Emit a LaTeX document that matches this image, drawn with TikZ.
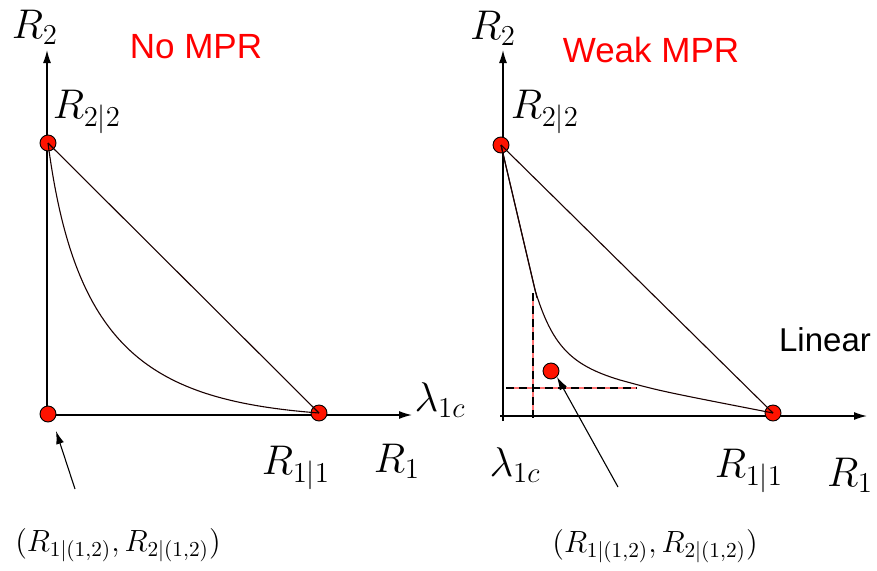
\documentclass[tikz,border=0pt]{standalone}
\usepackage{amsmath}
\usepackage{fontspec}
\newfontfamily\labelsans{Liberation Sans}
\usepackage{tikz}
\usetikzlibrary{arrows.meta, positioning, calc}

\tikzset{
  ratept/.style={circle, draw=black, fill=red!85!orange, line width=0.9pt, inner sep=0pt, minimum size=16pt},
  axisline/.style={line width=1.3pt, -{Latex[length=13pt,width=8pt]}},
  regionline/.style={line width=1.1pt, black!90!red},
  pointer/.style={line width=1.1pt, -{Latex[length=13pt,width=8pt]}},
  bigmath/.style={font=\fontsize{20}{24}\selectfont, inner sep=0pt, scale=2, transform shape},
  smallmath/.style={font=\fontsize{14}{17}\selectfont, inner sep=0pt, scale=2.13, transform shape},
  mprtitle/.style={font=\labelsans\fontsize{35}{42}\selectfont, text=red, inner sep=0pt},
}

\begin{document}
\begin{tikzpicture}[x=1pt, y=-1pt]
  \useasboundingbox (0,0) rectangle (877,570);

  % ---- left panel: no MPR ----
  \coordinate (LO) at (47,415);
  \coordinate (Ltop) at (47,50);
  \coordinate (Lend) at (412,415);
  \draw[axisline] (LO) -- (Ltop);
  \draw[axisline] (LO) -- (Lend);

  \node[ratept] (L22) at (48,143) {};
  \node[ratept] (L11) at (319,413) {};
  \node[ratept] (L12) at (48,414) {};

  % region boundaries
  \draw[regionline] (L22.center) -- (L11.center);
  \draw[regionline] (L22.center) .. controls (75,350) and (150,400) .. (L11.center);

  % labels
  \node[bigmath] (LR2) at (35,27) {$R_2$};
  \node[mprtitle] (Ltitle) at (196,47) {No MPR};
  \node[bigmath] (LR22) at (87,112) {$R_{2|2}$};
  \node[bigmath] (Llam) at (440,400) {$\lambda_{1c}$};
  \node[bigmath] (LR11) at (296,468) {$R_{1|1}$};
  \node[bigmath] (LR1) at (397,461) {$R_1$};
  \node[smallmath] (Lpair) at (118,545) {$(R_{1|(1,2)},R_{2|(1,2)})$};
  \coordinate (Ltail) at (75,489);
  \draw[pointer] (Ltail) -- (56,431);

  % ---- right panel: weak MPR ----
  \coordinate (RO) at (503,416);
  \coordinate (Rtop) at (503,50);
  \coordinate (Rend) at (867,416);
  \draw[line width=1.3pt] (503,421) -- (RO);
  \draw[line width=1.3pt] (500,416) -- (RO);
  \draw[axisline] (RO) -- (Rtop);
  \draw[axisline] (RO) -- (Rend);

  \node[ratept] (R22) at (501,145) {};
  \node[ratept] (R11) at (773,413) {};
  \node[ratept] (R12) at (551,371) {};

  % dashed limits at lambda_1c
  \coordinate (Vtop) at (533,293);
  \coordinate (Vbot) at (533,418);
  \coordinate (Hleft) at (506,388);
  \coordinate (Hright) at (637,388);
  \draw[red!55, line width=1.1pt] (Vtop) -- (Vbot);
  \draw[red!55, line width=1.1pt] (Hleft) -- (Hright);
  \draw[black, line width=1.1pt, dash pattern=on 8pt off 5pt] (Vtop) -- (Vbot);
  \draw[black, line width=1.1pt, dash pattern=on 8pt off 5pt] (Hleft) -- (Hright);

  % region boundaries
  \coordinate (Rkink) at (535,290);
  \draw[regionline] (R22.center) -- (R11.center);
  \draw[regionline] (R22.center) -- (537,298);
  \draw[regionline] (R22.center) -- (Rkink)
    .. controls (552,345) and (570,365) .. (620,380)
    .. controls (660,391) .. (R11.center);

  % labels
  \node[bigmath] (RR2) at (493,28) {$R_2$};
  \node[mprtitle] (Rtitle) at (651,50) {Weak MPR};
  \node[bigmath] (RR22) at (545,112) {$R_{2|2}$};
  \node[font=\labelsans\fontsize{33}{40}\selectfont, inner sep=0pt] (Rlin) at (825,340) {Linear};
  \node[bigmath] (Rlam) at (515,465) {$\lambda_{1c}$};
  \node[bigmath] (RR11) at (749,471) {$R_{1|1}$};
  \node[bigmath] (RR1) at (850,475) {$R_1$};
  \node[smallmath] (Rpair) at (655,546) {$(R_{1|(1,2)},R_{2|(1,2)})$};
  \coordinate (Rtail) at (618,487);
  \draw[pointer] (Rtail) -- (R12.south east);
\end{tikzpicture}
\end{document}
